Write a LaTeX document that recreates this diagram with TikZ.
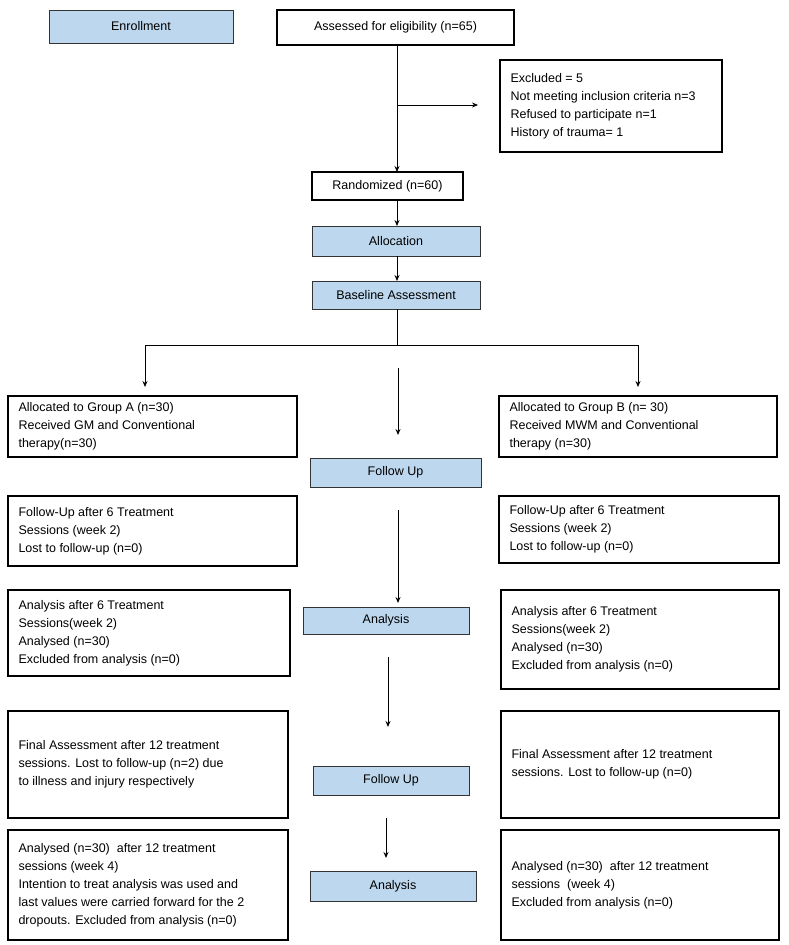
\documentclass[tikz,border=0pt]{standalone}
\usepackage{fontspec}
\setmainfont{Liberation Sans}
\usetikzlibrary{arrows.meta}
\definecolor{lb}{HTML}{BDD7EE}
\begin{document}
\begin{tikzpicture}[x=1pt,y=-1pt,
 arr/.style={-{Stealth[length=6pt,width=5pt]},line width=0.7pt}]
\useasboundingbox (0,0) rectangle (789,945);
\def\R#1#2#3#4#5#6#7{\path[#1] (#3,#4) rectangle (#5,#6); \coordinate (#2) at ({(#3+#5)/2},{(#4+#6)/2}); \node[anchor=west,align=left,font=\fontsize{12.5}{18}\selectfont] at (#3+7,{(#4+#6)/2}) {#7};}
\def\C#1#2#3#4#5#6#7{\path[#1] (#3,#4) rectangle (#5,#6); \node[font=\fontsize{12.5}{16}\selectfont] (#2) at ({(#3+#5)/2},{(#4+#6)/2}) {#7};}
\tikzset{B/.style={draw=black!80,line width=0.8pt,fill=lb},K/.style={draw,line width=1.6pt}}
\C{B}{enr}{49}{10}{233}{43}{Enrollment}
\C{K}{ass}{277}{10}{514}{45}{Assessed for eligibility (n=65)}
\R{K}{exc}{500}{60}{722}{152}{Excluded = 5\\Not meeting inclusion criteria n=3\\Refused to participate n=1\\History of trauma= 1}
\C{K}{ran}{312}{172}{463}{200}{Randomized (n=60)}
\C{B}{all}{312}{226}{480}{256}{Allocation}
\C{B}{bas}{312}{281}{480}{309}{Baseline Assessment}
\R{K}{ga}{8}{396}{297}{457}{Allocated to Group A (n=30)\\Received GM and Conventional\\therapy(n=30)}
\R{K}{gb}{499}{396}{777}{457}{Allocated to Group B (n= 30)\\Received MWM and Conventional\\therapy (n=30)}
\C{B}{fu1}{310}{458}{481}{487}{Follow Up}
\R{K}{fa}{8}{496}{297}{566}{Follow-Up after 6 Treatment\\Sessions (week 2)\\Lost to follow-up (n=0)}
\R{K}{fb}{499}{496}{779}{563}{Follow-Up after 6 Treatment\\Sessions (week 2)\\Lost to follow-up (n=0)}
\C{B}{an1}{303}{607}{469}{634}{Analysis}
\R{K}{aa}{8}{590}{290}{676}{Analysis after 6 Treatment\\Sessions(week 2)\\Analysed (n=30)\\Excluded from analysis (n=0)}
\R{K}{ab}{501}{590}{779}{689}{Analysis after 6 Treatment\\Sessions(week 2)\\Analysed (n=30)\\Excluded from analysis (n=0)}
\R{K}{fia}{8}{711}{288}{818}{Final Assessment after 12 treatment\\sessions. Lost to follow-up (n=2) due\\to illness and injury respectively}
\R{K}{fib}{501}{711}{779}{818}{Final Assessment after 12 treatment\\sessions. Lost to follow-up (n=0)}
\C{B}{fu2}{313}{766}{469}{795}{Follow Up}
\R{K}{ana}{8}{830}{288}{940}{Analysed (n=30)\ \ after 12 treatment\\sessions (week 4)\\Intention to treat analysis was used and\\last values were carried forward for the 2\\dropouts. Excluded from analysis (n=0)}
\R{K}{anb}{501}{830}{779}{940}{Analysed (n=30)\ \ after 12 treatment\\sessions\ \ (week 4)\\Excluded from analysis (n=0)}
\C{B}{an2}{310}{871}{476}{901}{Analysis}
% connectors
\coordinate (p1) at (397,45); \coordinate (p2) at (397,172);
\coordinate (j1) at (397,105); \coordinate (j2) at (478,105);
\draw[arr] (p1) -- (p2);
\draw[arr] (j1) -- (j2);
\coordinate (p3) at (397,200); \coordinate (p4) at (397,226);
\draw[arr] (p3) -- (p4);
\coordinate (p5) at (397,256); \coordinate (p6) at (397,281);
\draw[arr] (p5) -- (p6);
\coordinate (p7) at (397,309); \coordinate (p8) at (397,345);
\coordinate (l1) at (145,345); \coordinate (r1) at (638,345);
\coordinate (l2) at (145,387); \coordinate (r2) at (638,387);
\draw[line width=0.7pt] (p7) -- (p8);
\draw[line width=0.7pt] (l1) -- (r1);
\draw[arr] (l1) -- (l2);
\draw[arr] (r1) -- (r2);
\coordinate (c1) at (398,368); \coordinate (c2) at (398,435);
\draw[arr,line width=1pt] (c1) -- (c2);
\coordinate (c3) at (398,510); \coordinate (c4) at (398,603);
\draw[arr,line width=1pt] (c3) -- (c4);
\coordinate (c5) at (388,657); \coordinate (c6) at (388,727);
\draw[arr,line width=1pt] (c5) -- (c6);
\coordinate (c7) at (386,818); \coordinate (c8) at (386,858);
\draw[arr,line width=1pt] (c7) -- (c8);
\end{tikzpicture}
\end{document}
